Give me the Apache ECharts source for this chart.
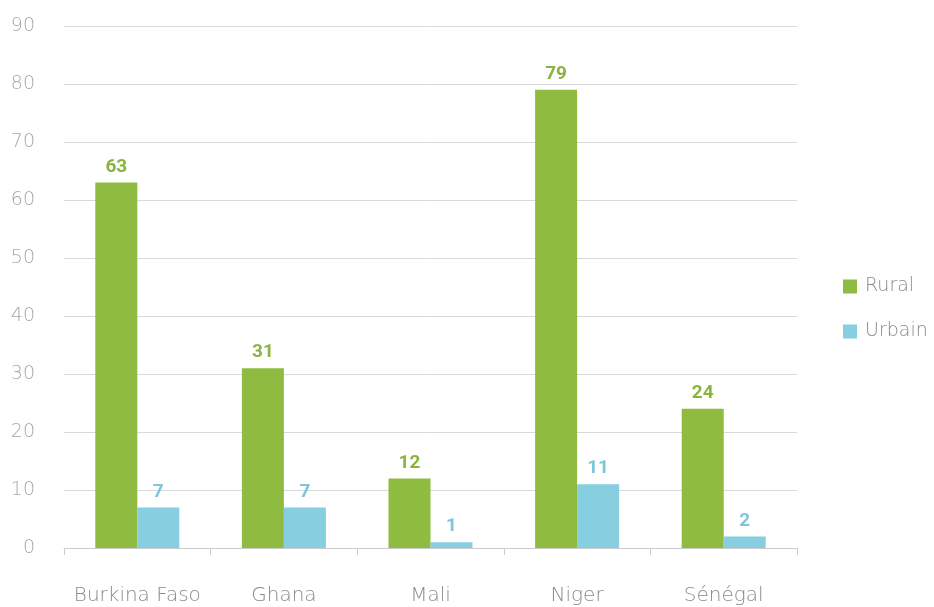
<!DOCTYPE html>
<html><head><meta charset="utf-8">
<script src="https://cdn.jsdelivr.net/npm/echarts@6/dist/echarts.min.js"></script>
<style>html,body{margin:0;padding:0;background:#fff}#c{width:934px;height:607px}</style>
</head><body><div id="c"></div>
<script>
const categories = ['Burkina Faso', 'Ghana', 'Mali', 'Niger', 'Sénégal'];
const rural = [63, 31, 12, 79, 24];
const urbain = [7, 7, 1, 11, 2];
const yTicks = [0, 10, 20, 30, 40, 50, 60, 70, 80, 90];

const chart = echarts.init(document.getElementById('c'), null, {renderer: 'canvas'});
const font = '"DejaVu Sans", sans-serif';
const vfont = 'Roboto, sans-serif';
chart.setOption({
  animation: false,
  textStyle: {fontFamily: font},
  grid: {left: 64, right: 137, top: 26, bottom: 59, containLabel: false},
  legend: {
    orient: 'vertical', left: 838, top: 272, itemGap: 26,
    itemWidth: 14, itemHeight: 14, icon: 'rect',
    textStyle: {fontSize: 19, color: '#8a8a8a', fontFamily: font, fontWeight: 300, padding: [0, 0, 0, 3]},
    data: ['Rural', 'Urbain']
  },
  xAxis: {
    type: 'category', data: categories,
    axisLine: {show: true, lineStyle: {color: '#cccccc'}},
    axisTick: {show: true, length: 7, lineStyle: {color: '#cccccc'}},
    axisLabel: {color: '#8a8a8a', fontSize: 20, fontWeight: 300, margin: 38, fontFamily: font, interval: 0, hideOverlap: false}
  },
  yAxis: {
    type: 'value', min: yTicks[0], max: yTicks[yTicks.length - 1], interval: 10,
    axisLine: {show: false}, axisTick: {show: false},
    axisLabel: {color: '#a8a8a8', fontSize: 19, fontWeight: 300, margin: 29, fontFamily: font},
    splitLine: {lineStyle: {color: '#d9d9d9'}}
  },
  series: [
    {name: 'Rural', type: 'bar', data: rural, barWidth: 42, barGap: '0%',
     itemStyle: {color: '#8fbb41'},
     label: {show: true, position: 'top', distance: 6, color: '#8ab43f', fontSize: 19, fontWeight: 'bold', fontFamily: vfont}},
    {name: 'Urbain', type: 'bar', data: urbain, barWidth: 42, barGap: '0%',
     itemStyle: {color: '#86cee0'},
     label: {show: true, position: 'top', distance: 6, color: '#80c6da', fontSize: 19, fontWeight: 'bold', fontFamily: vfont}}
  ]
});
</script></body></html>
